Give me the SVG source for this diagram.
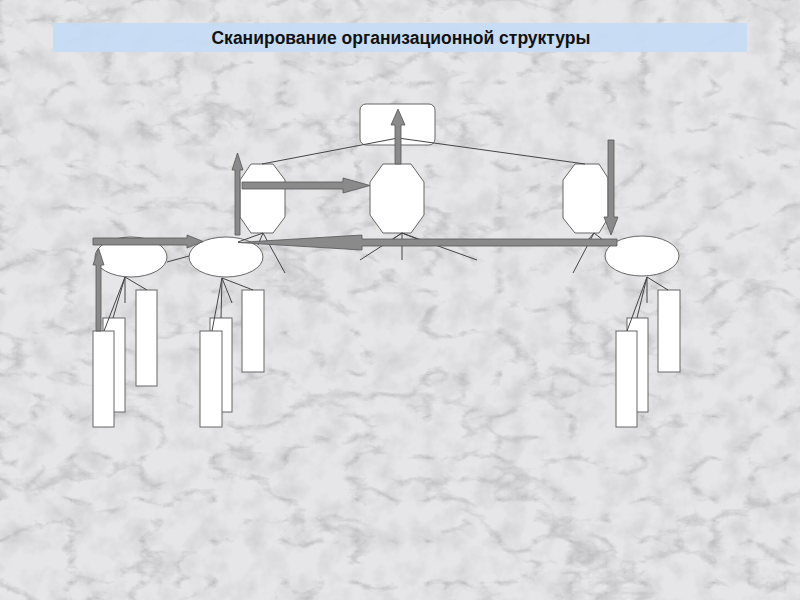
<svg xmlns="http://www.w3.org/2000/svg" width="800" height="600" viewBox="0 0 800 600">
<defs>
<filter id="marble" x="0" y="0" width="800" height="600" filterUnits="userSpaceOnUse">
<feTurbulence type="turbulence" baseFrequency="0.014 0.024" numOctaves="5" seed="7" result="t"/>
<feColorMatrix in="t" type="matrix" values="0 0 0 0 0.42  0 0 0 0 0.42  0 0 0 0 0.44  -4 0 0 0 0.85"/>
</filter>
<filter id="speck" x="0" y="0" width="800" height="600" filterUnits="userSpaceOnUse">
<feTurbulence type="fractalNoise" baseFrequency="0.04" numOctaves="4" seed="2"/>
<feColorMatrix type="matrix" values="0 0 0 0 0.5  0 0 0 0 0.5  0 0 0 0 0.52  -1.6 0 0 0 0.95"/>
</filter>
<style>
.n{fill:#ffffff;stroke:#666;stroke-width:1}
.c line{stroke:#444;stroke-width:1}
.a{fill:#8a8a8a;stroke:#555;stroke-width:0.8}
.t{font-family:"Liberation Sans",Arial,sans-serif;font-weight:bold;font-size:17.5px;fill:#111}
</style>
</defs>
<rect x="0" y="0" width="800" height="600" fill="#e6e6e8"/>
<rect x="0" y="0" width="800" height="600" filter="url(#speck)" opacity="0.6"/>
<rect x="0" y="0" width="800" height="600" filter="url(#marble)" opacity="0.75"/>
<g id="title">
<rect x="53" y="23" width="694" height="29" fill="#c6dbf5" opacity="0.92"/>
<text class="t" x="401" y="44" text-anchor="middle">Сканирование организационной структуры</text>
</g>
<g id="top"><rect class="n" x="360" y="104" width="75" height="41" rx="6"/></g>
<g id="oct1"><polygon class="n" points="251,164 273,164 285,180 285,217 273,233 251,233 240,217 240,180"/></g>
<g id="oct2"><polygon class="n" points="383,164 411,164 424,182 424,215 411,233 383,233 370,215 370,182"/></g>
<g id="oct3"><polygon class="n" points="575,164 599,164 608,178 608,218 599,233 575,233 563,218 563,180"/></g>
<g id="ell1"><ellipse class="n" cx="131" cy="257" rx="36" ry="20"/></g>
<g id="ell2"><ellipse class="n" cx="226" cy="257" rx="37" ry="20"/></g>
<g id="ell3"><ellipse class="n" cx="642" cy="256" rx="37" ry="20"/></g>
<g id="r1a"><rect class="n" x="103" y="318" width="22" height="94"/></g>
<g id="r1b"><rect class="n" x="93" y="331" width="21" height="96"/></g>
<g id="r1c"><rect class="n" x="136" y="290" width="21" height="96"/></g>
<g id="r2a"><rect class="n" x="210" y="318" width="22" height="94"/></g>
<g id="r2b"><rect class="n" x="200" y="331" width="22" height="96"/></g>
<g id="r2c"><rect class="n" x="242" y="290" width="22" height="82"/></g>
<g id="r3a"><rect class="n" x="627" y="318" width="21" height="94"/></g>
<g id="r3b"><rect class="n" x="616" y="331" width="21" height="96"/></g>
<g id="r3c"><rect class="n" x="658" y="290" width="22" height="82"/></g>
<g id="connectors" class="c">
<line x1="398" y1="138" x2="262" y2="164"/>
<line x1="398" y1="138" x2="585" y2="164"/>
<line x1="263" y1="233" x2="238" y2="242"/>
<line x1="263" y1="233" x2="258" y2="245"/>
<line x1="263" y1="233" x2="285" y2="273"/>
<line x1="402" y1="233" x2="360" y2="260"/>
<line x1="402" y1="233" x2="402" y2="260"/>
<line x1="402" y1="233" x2="477" y2="260"/>
<line x1="402" y1="233" x2="393" y2="239"/>
<line x1="402" y1="233" x2="417" y2="239"/>
<line x1="594" y1="233" x2="573" y2="273"/>
<line x1="594" y1="233" x2="588" y2="240"/>
<line x1="594" y1="233" x2="603" y2="240"/>
<line x1="167" y1="262" x2="189" y2="256"/>
<line x1="125" y1="277" x2="104" y2="331"/>
<line x1="125" y1="277" x2="113" y2="318"/>
<line x1="125" y1="277" x2="125" y2="303"/>
<line x1="125" y1="277" x2="147" y2="290"/>
<line x1="222" y1="278" x2="212" y2="331"/>
<line x1="222" y1="278" x2="221" y2="318"/>
<line x1="222" y1="278" x2="232" y2="303"/>
<line x1="222" y1="278" x2="253" y2="290"/>
<line x1="647" y1="277" x2="627" y2="331"/>
<line x1="647" y1="277" x2="637" y2="318"/>
<line x1="647" y1="277" x2="647" y2="303"/>
<line x1="647" y1="277" x2="668" y2="290"/>
<polygon class="a" points="395,164 395,125 391,125 398,109 405,125 401,125 401,164"/>
<polygon class="a" points="235,235 235,170 232,170 237.5,153 243,170 240,170 240,235"/>
<polygon class="a" points="242,182 343,182 343,178 370,185.5 343,193 343,189 242,189"/>
<polygon class="a" points="608,140 614,140 614,217 618,217 611,235 604,217 608,217"/>
<polygon class="a" points="617,239 362,239 362,235 238,242.5 362,250 362,246 617,246"/>
<polygon class="a" points="93,238 187,238 187,235 203,241.5 187,248 187,245 93,245"/>
<polygon class="a" points="96,331 96,265 93,265 98.5,248 104,265 101,265 101,331"/>
</g>
</svg>
